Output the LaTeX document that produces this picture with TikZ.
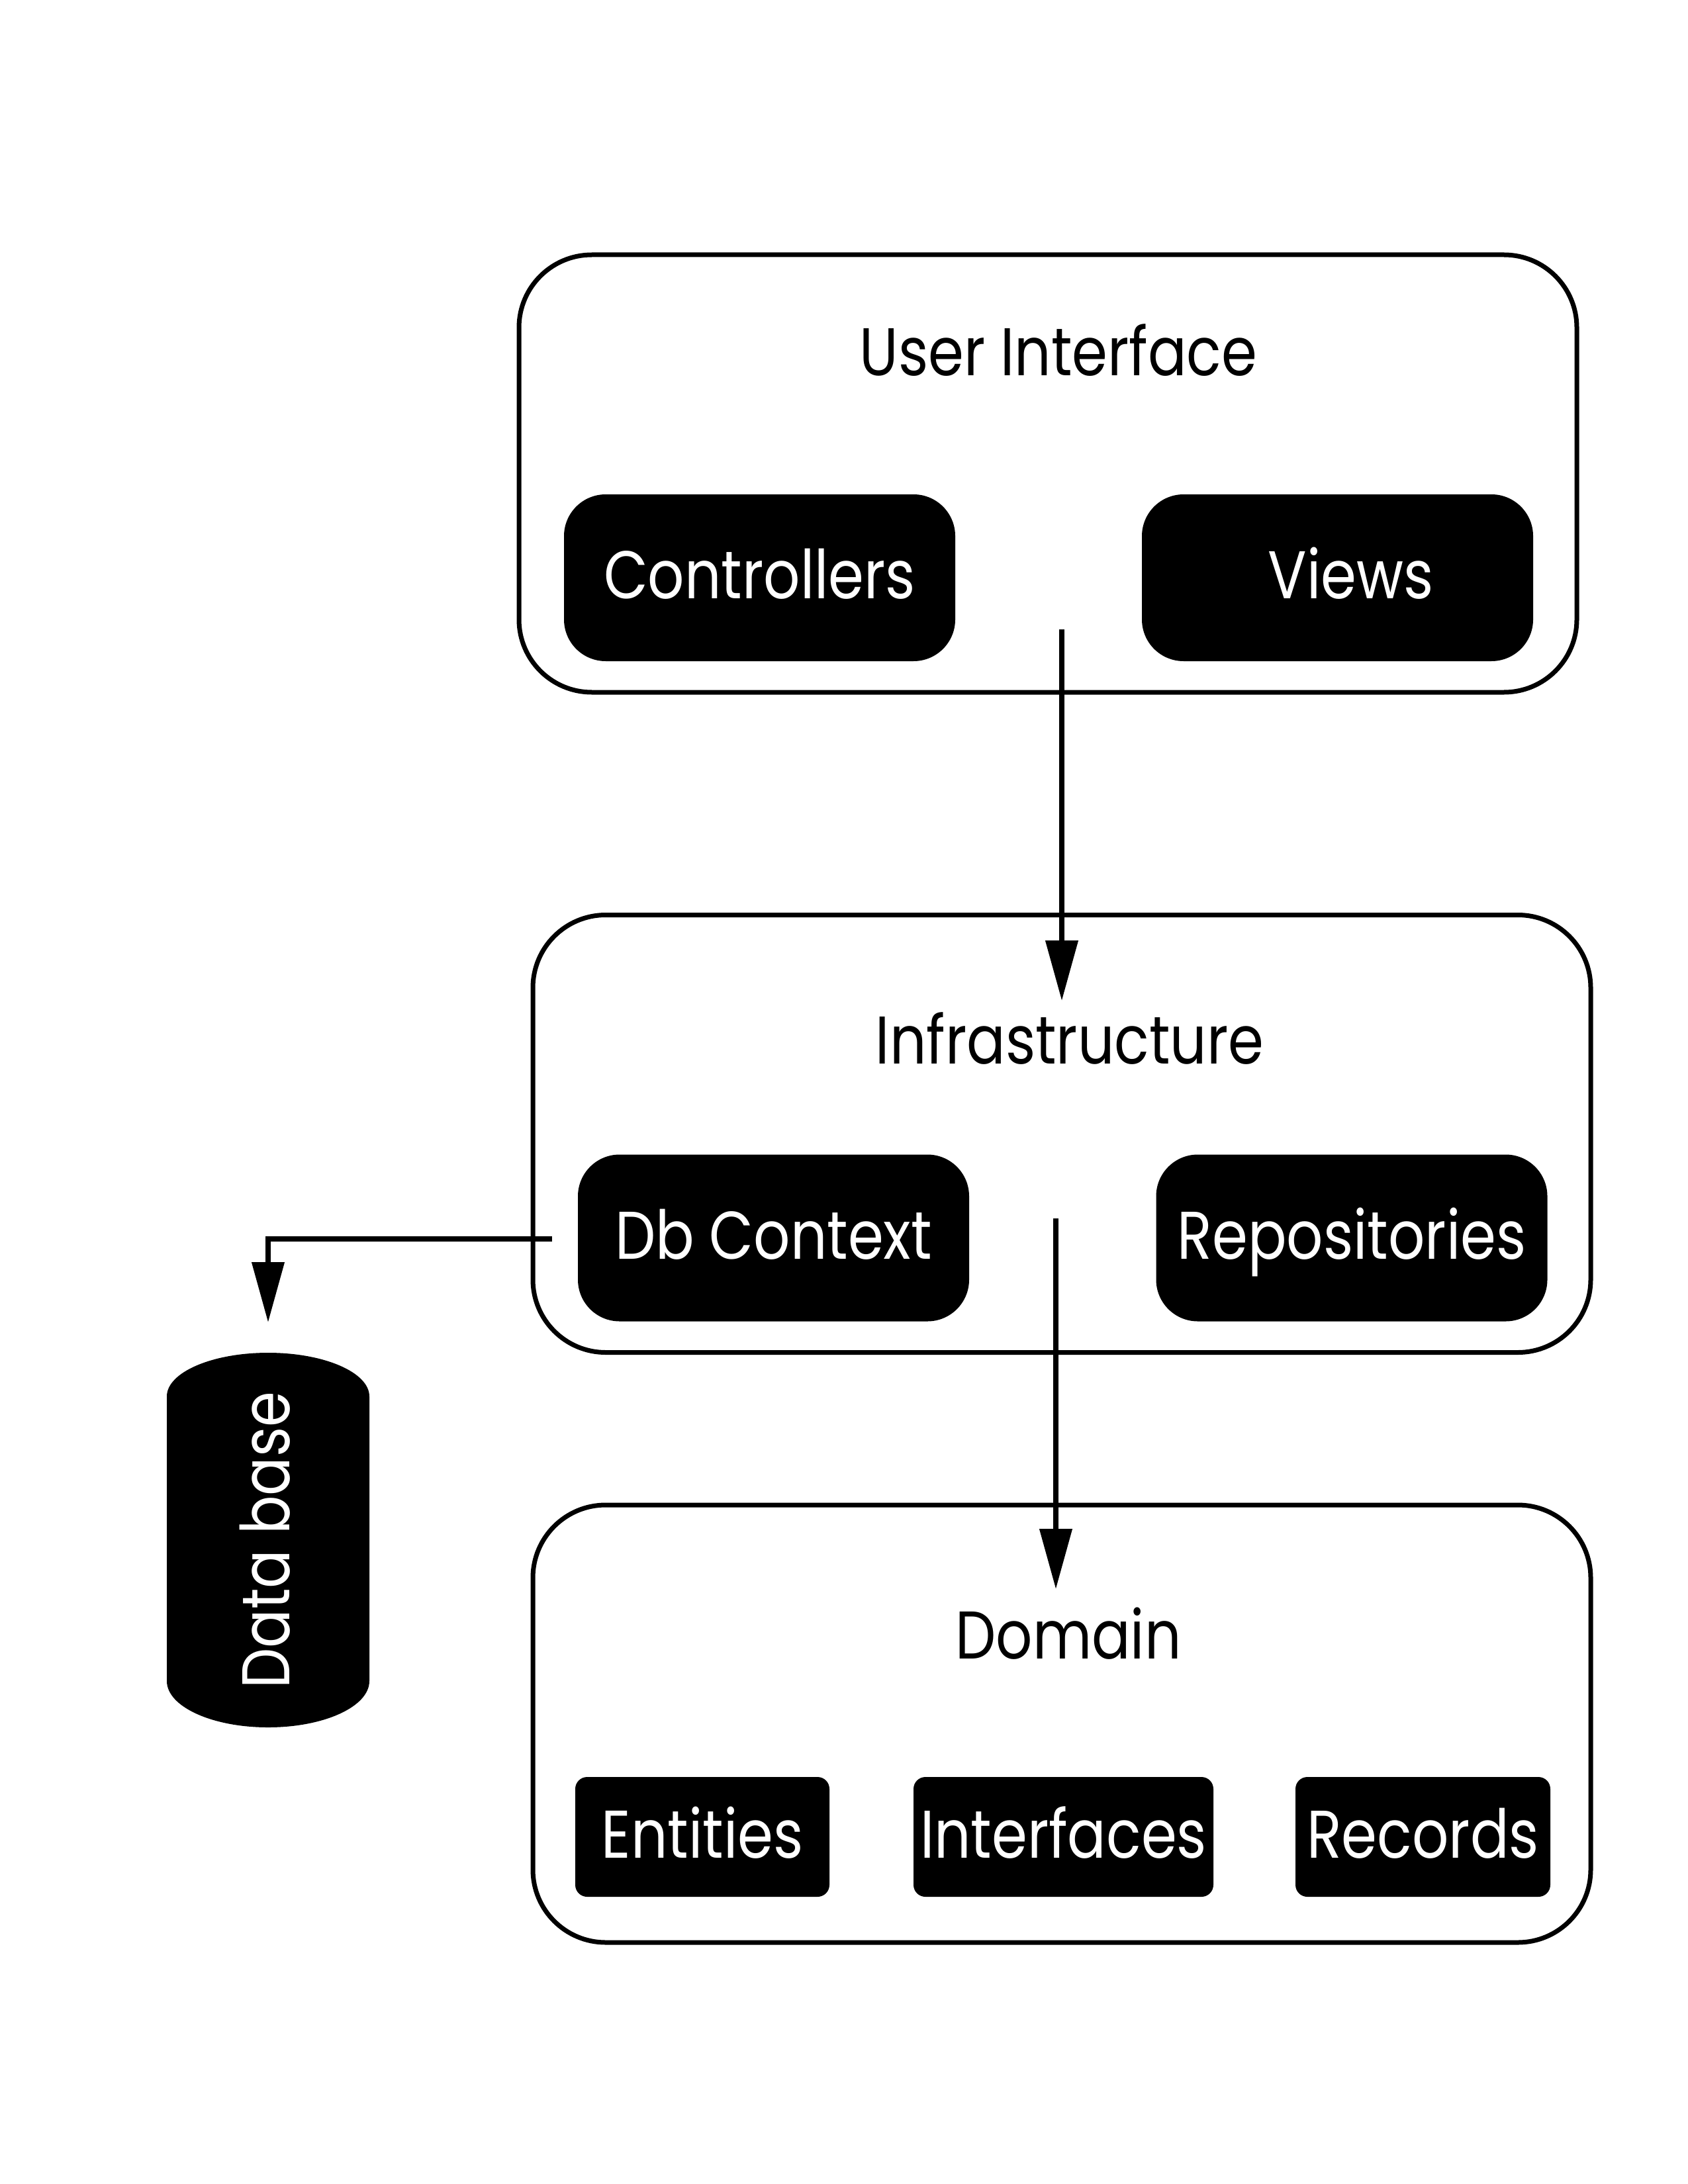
\documentclass[tikz,border=0pt]{standalone}
\usepackage{fontspec}
\setmainfont{Poppins}[FakeStretch=0.85]
\usetikzlibrary{arrows.meta,positioning}
\tikzset{
 layer/.style={draw,line width=.07cm,rounded corners=1.1cm,minimum width=15.98cm,minimum height=6.61cm},
 part/.style={fill=black,text=white,rounded corners=.63cm,minimum width=5.91cm,minimum height=2.52cm,text height=.63cm,text depth=0pt},
 item/.style={fill=black,text=white,rounded corners=.18cm,minimum height=1.81cm,text height=.63cm,text depth=0pt},
 link/.style={->,line width=.075cm}
}
\begin{document}
\begin{tikzpicture}[x=1cm,y=1cm,font=\fontsize{29}{34}\selectfont,
 >={Triangle[length=.91cm,width=.48cm]},every node/.style={inner sep=0pt}]
\useasboundingbox (0,0) rectangle (25.5,-33);
% user interface
\node[layer] (ui) at (15.83,-7.155) {};
\node[anchor=base] (uititle) at (15.99,-5.68) {User Interface};
\node[part] (ctrl) at (11.475,-8.73) {Controllers};
\node[part] (views) at (20.205,-8.73) {\hspace{.4cm}Views};
% infrastructure
\node[layer] (infra) at (16.04,-17.13) {};
\node[anchor=base] (infratitle) at (16.16,-16.07) {Infrastructure};
\node[part] (dbctx) at (11.685,-18.705) {Db Context};
\node[part] (repos) at (20.42,-18.705) {Repositories};
% domain
\node[layer] (dom) at (16.04,-26.045) {};
\node[anchor=base] (domtitle) at (16.14,-25.06) {Domain};
\node[item,minimum width=3.84cm] (ent) at (10.61,-27.755) {Entities};
\node[item,minimum width=4.53cm] (intf) at (16.065,-27.755) {Interfaces};
\node[item,minimum width=3.85cm] (rec) at (21.495,-27.755) {Records};
% database
\fill (2.52,-21.10) -- (2.52,-25.40) arc[start angle=180,end angle=360,x radius=1.53cm,y radius=.70cm]
 -- (5.58,-21.10) arc[start angle=0,end angle=180,x radius=1.53cm,y radius=.66cm] -- cycle;
\node[rotate=90,text=white] (db) at (4.0,-23.27) {Data base};
% connectors
\coordinate (uiout) at (16.04,-9.51);
\coordinate (infrain) at (16.04,-15.12);
\coordinate (infraout) at (15.95,-18.41);
\coordinate (domin) at (15.95,-24.01);
\coordinate (dbout) at (8.34,-18.72);
\coordinate (dbin) at (4.05,-19.98);
\draw[link] (uiout)--(infrain);
\draw[link] (infraout)--(domin);
\draw[link] (dbout)-|(dbin);
\end{tikzpicture}
\end{document}
